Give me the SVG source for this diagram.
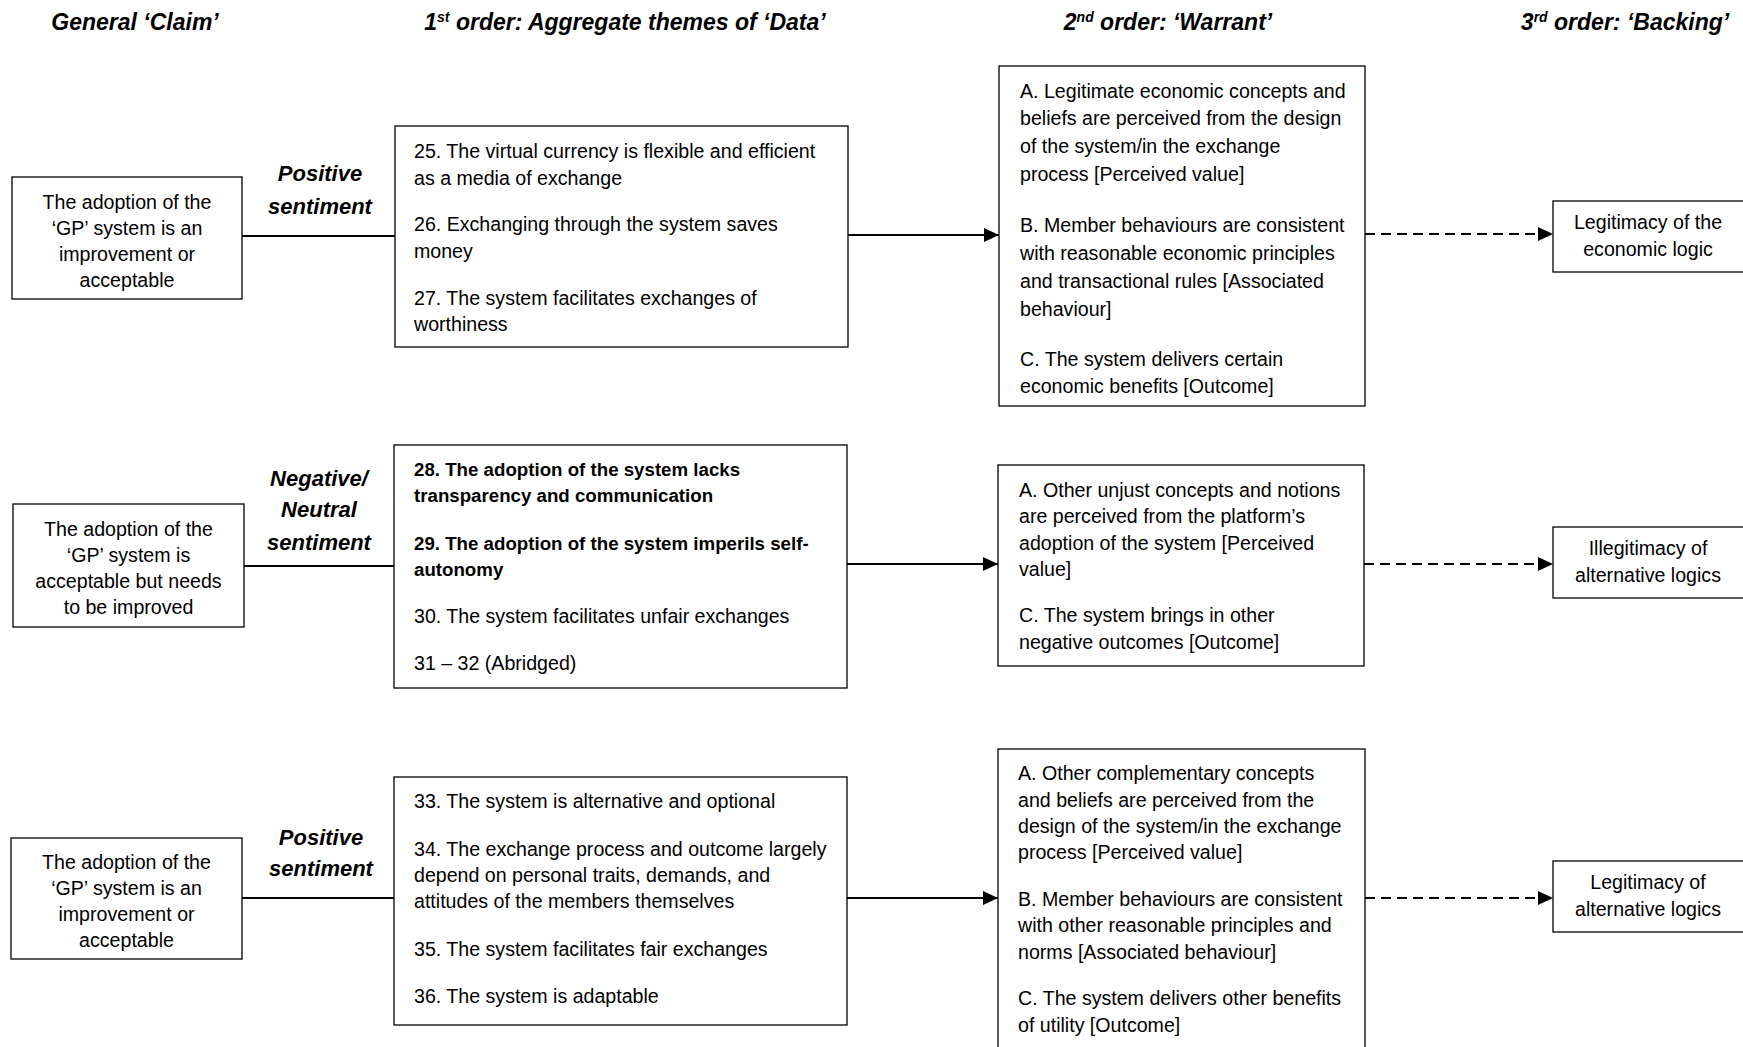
<svg xmlns="http://www.w3.org/2000/svg" width="1743" height="1047" viewBox="0 0 1743 1047">
  <style>
    text { font-family: "Liberation Sans", Arial, sans-serif; fill: #000; }
    .hdr { font-size: 23px; font-weight: bold; font-style: italic; text-anchor: middle; }
    .sent { font-size: 22px; font-weight: bold; font-style: italic; text-anchor: middle; }
    .body { font-size: 19.6px; }
    .mid { text-anchor: middle; }
    .b { font-weight: bold; font-size: 18.7px; }
    .box { fill: #fff; stroke: #000; stroke-width: 1.3; }
    .link { stroke: #000; stroke-width: 2; fill: none; }
    .dash { stroke-dasharray: 10 6; }
  </style>
  <defs>
    <marker id="arrow" viewBox="0 0 15 14" refX="15" refY="7" markerWidth="15" markerHeight="14" markerUnits="userSpaceOnUse" orient="auto">
      <path d="M0,0 L15,7 L0,14 z" fill="#000"/>
    </marker>
  </defs>

  <!-- column headings -->
  <g id="headings">
    <text class="hdr" x="135" y="30">General ‘Claim’</text>
    <text class="hdr" x="625" y="30">1<tspan font-size="14" dy="-8">st</tspan><tspan dy="8"> order: Aggregate themes of ‘Data’</tspan></text>
    <text class="hdr" x="1168" y="30">2<tspan font-size="14" dy="-8">nd</tspan><tspan dy="8"> order: ‘Warrant’</tspan></text>
    <text class="hdr" x="1625" y="30">3<tspan font-size="14" dy="-8">rd</tspan><tspan dy="8"> order: ‘Backing’</tspan></text>
  </g>

  <!-- connectors -->
  <g id="connectors">
    <line class="link" x1="242" y1="236" x2="395" y2="236"/>
    <line class="link" x1="848" y1="235" x2="999" y2="235" marker-end="url(#arrow)"/>
    <line class="link dash" x1="1365" y1="234" x2="1553" y2="234" marker-end="url(#arrow)"/>

    <line class="link" x1="244" y1="566" x2="394" y2="566"/>
    <line class="link" x1="847" y1="564" x2="998" y2="564" marker-end="url(#arrow)"/>
    <line class="link dash" x1="1364" y1="564" x2="1553" y2="564" marker-end="url(#arrow)"/>

    <line class="link" x1="242" y1="898" x2="394" y2="898"/>
    <line class="link" x1="847" y1="898" x2="998" y2="898" marker-end="url(#arrow)"/>
    <line class="link dash" x1="1365" y1="898" x2="1553" y2="898" marker-end="url(#arrow)"/>
  </g>

  <!-- sentiment labels -->
  <g id="sentiment-1">
    <text class="sent" x="320" y="181">Positive</text>
    <text class="sent" x="320" y="214">sentiment</text>
  </g>
  <g id="sentiment-2">
    <text class="sent" x="319" y="486">Negative/</text>
    <text class="sent" x="319" y="517">Neutral</text>
    <text class="sent" x="319" y="550">sentiment</text>
  </g>
  <g id="sentiment-3">
    <text class="sent" x="321" y="845">Positive</text>
    <text class="sent" x="321" y="876">sentiment</text>
  </g>

  <!-- row 1 -->
  <g id="claim-1">
    <rect class="box" x="12" y="177" width="230" height="122"/>
    <text class="body mid" x="127" y="208.5">The adoption of the</text>
    <text class="body mid" x="127" y="234.5">‘GP’ system is an</text>
    <text class="body mid" x="127" y="260.5">improvement or</text>
    <text class="body mid" x="127" y="286.5">acceptable</text>
  </g>
  <g id="data-1">
    <rect class="box" x="395" y="126" width="453" height="221"/>
    <text class="body" x="414" y="158">25. The virtual currency is flexible and efficient</text>
    <text class="body" x="414" y="184.5">as a media of exchange</text>
    <text class="body" x="414" y="231">26. Exchanging through the system saves</text>
    <text class="body" x="414" y="257.5">money</text>
    <text class="body" x="414" y="304.5">27. The system facilitates exchanges of</text>
    <text class="body" x="414" y="331">worthiness</text>
  </g>
  <g id="warrant-1">
    <rect class="box" x="999" y="66" width="366" height="340"/>
    <text class="body" x="1020" y="97.5">A. Legitimate economic concepts and</text>
    <text class="body" x="1020" y="125">beliefs are perceived from the design</text>
    <text class="body" x="1020" y="153">of the system/in the exchange</text>
    <text class="body" x="1020" y="180.5">process [Perceived value]</text>
    <text class="body" x="1020" y="232">B. Member behaviours are consistent</text>
    <text class="body" x="1020" y="260">with reasonable economic principles</text>
    <text class="body" x="1020" y="288">and transactional rules [Associated</text>
    <text class="body" x="1020" y="315.5">behaviour]</text>
    <text class="body" x="1020" y="365.5">C. The system delivers certain</text>
    <text class="body" x="1020" y="393">economic benefits [Outcome]</text>
  </g>
  <g id="backing-1">
    <rect class="box" x="1553" y="201" width="195" height="71"/>
    <text class="body mid" x="1648" y="229">Legitimacy of the</text>
    <text class="body mid" x="1648" y="256">economic logic</text>
  </g>

  <!-- row 2 -->
  <g id="claim-2">
    <rect class="box" x="13" y="504" width="231" height="123"/>
    <text class="body mid" x="128.5" y="535.5">The adoption of the</text>
    <text class="body mid" x="128.5" y="561.5">‘GP’ system is</text>
    <text class="body mid" x="128.5" y="587.5">acceptable but needs</text>
    <text class="body mid" x="128.5" y="613.5">to be improved</text>
  </g>
  <g id="data-2">
    <rect class="box" x="394" y="445" width="453" height="243"/>
    <text class="body b" x="414" y="475.5">28. The adoption of the system lacks</text>
    <text class="body b" x="414" y="502">transparency and communication</text>
    <text class="body b" x="414" y="550">29. The adoption of the system imperils self-</text>
    <text class="body b" x="414" y="576">autonomy</text>
    <text class="body" x="414" y="622.5">30. The system facilitates unfair exchanges</text>
    <text class="body" x="414" y="670">31 – 32 (Abridged)</text>
  </g>
  <g id="warrant-2">
    <rect class="box" x="998" y="465" width="366" height="201"/>
    <text class="body" x="1019" y="497">A. Other unjust concepts and notions</text>
    <text class="body" x="1019" y="523">are perceived from the platform’s</text>
    <text class="body" x="1019" y="549.5">adoption of the system [Perceived</text>
    <text class="body" x="1019" y="575.5">value]</text>
    <text class="body" x="1019" y="622">C. The system brings in other</text>
    <text class="body" x="1019" y="648.5">negative outcomes [Outcome]</text>
  </g>
  <g id="backing-2">
    <rect class="box" x="1553" y="527" width="195" height="71"/>
    <text class="body mid" x="1648" y="555">Illegitimacy of</text>
    <text class="body mid" x="1648" y="582">alternative logics</text>
  </g>

  <!-- row 3 -->
  <g id="claim-3">
    <rect class="box" x="11" y="838" width="231" height="121"/>
    <text class="body mid" x="126.5" y="868.5">The adoption of the</text>
    <text class="body mid" x="126.5" y="894.5">‘GP’ system is an</text>
    <text class="body mid" x="126.5" y="920.5">improvement or</text>
    <text class="body mid" x="126.5" y="946.5">acceptable</text>
  </g>
  <g id="data-3">
    <rect class="box" x="394" y="777" width="453" height="248"/>
    <text class="body" x="414" y="808">33. The system is alternative and optional</text>
    <text class="body" x="414" y="856">34. The exchange process and outcome largely</text>
    <text class="body" x="414" y="882">depend on personal traits, demands, and</text>
    <text class="body" x="414" y="907.5">attitudes of the members themselves</text>
    <text class="body" x="414" y="956">35. The system facilitates fair exchanges</text>
    <text class="body" x="414" y="1003">36. The system is adaptable</text>
  </g>
  <g id="warrant-3">
    <rect class="box" x="998" y="749" width="367" height="320"/>
    <text class="body" x="1018" y="780">A. Other complementary concepts</text>
    <text class="body" x="1018" y="806.5">and beliefs are perceived from the</text>
    <text class="body" x="1018" y="832.5">design of the system/in the exchange</text>
    <text class="body" x="1018" y="859">process [Perceived value]</text>
    <text class="body" x="1018" y="906">B. Member behaviours are consistent</text>
    <text class="body" x="1018" y="932">with other reasonable principles and</text>
    <text class="body" x="1018" y="958.5">norms [Associated behaviour]</text>
    <text class="body" x="1018" y="1005">C. The system delivers other benefits</text>
    <text class="body" x="1018" y="1032">of utility [Outcome]</text>
  </g>
  <g id="backing-3">
    <rect class="box" x="1553" y="861" width="195" height="71"/>
    <text class="body mid" x="1648" y="889">Legitimacy of</text>
    <text class="body mid" x="1648" y="916">alternative logics</text>
  </g>
</svg>
